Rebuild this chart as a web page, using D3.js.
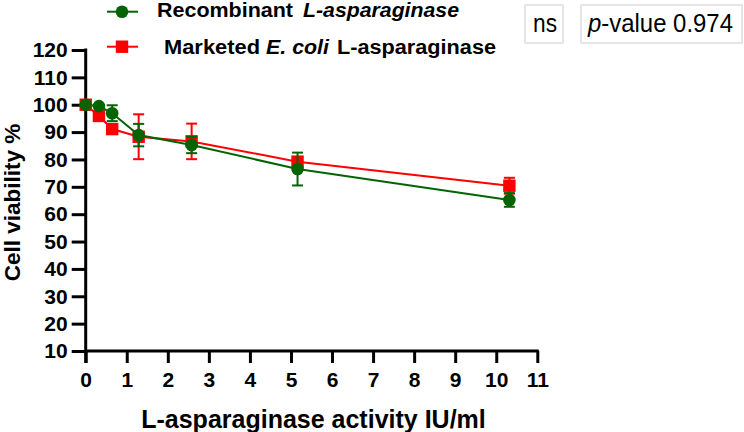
<!DOCTYPE html>
<html>
<head>
<meta charset="utf-8">
<script src="https://cdn.jsdelivr.net/npm/d3@7"></script>
<style>
  html, body { margin: 0; padding: 0; background: #fff; }
  svg { display: block; font-family: "Liberation Sans", Arial, sans-serif; }
</style>
</head>
<body>
<svg id="chart" width="744" height="432"></svg>
<script>
// ---- data ----
const activity = [0, 0.3225, 0.645, 1.29, 2.58, 5.16, 10.32];
const recombinantMean = [100, 99.5, 96.9, 88.9, 85.3, 76.5, 65.2];
const recombinantSD   = [0, 0, 2.9, 4.1, 3.0, 6.0, 2.5];
const marketedMean = [100, 95.9, 91.1, 88.3, 86.6, 79.2, 70.4];
const marketedSD   = [0, 0, 0, 8.2, 6.5, 1.5, 2.9];
const xTicks = [0, 1, 2, 3, 4, 5, 6, 7, 8, 9, 10, 11];
const yTicks = [10, 20, 30, 40, 50, 60, 70, 80, 90, 100, 110, 120];
const seriesNames = ["Recombinant", "Marketed"];

const GREEN = "#046404", RED = "#ff0000";

const svg = d3.select("#chart");
const x = d3.scaleLinear().domain([0, 11]).range([85.7, 537.3]);
const y = d3.scaleLinear().domain([10, 120]).range([351, 50]);

// ---- axes ----
const yAxis = d3.axisLeft(y).tickValues(yTicks).tickSize(14).tickPadding(4).tickSizeOuter(0);
const gy = svg.append("g").attr("transform", `translate(${x(0)},0)`).call(yAxis);
gy.select(".domain").remove();
gy.selectAll(".tick line").attr("stroke", "#000").attr("stroke-width", 3);
gy.selectAll(".tick text").attr("font-size", 21).attr("font-weight", "bold").attr("fill", "#000")
  .attr("font-family", "Liberation Sans, Arial, sans-serif");

const xAxis = d3.axisBottom(x).tickValues(xTicks).tickSize(12).tickPadding(9).tickSizeOuter(0);
const gx = svg.append("g").attr("transform", `translate(0,${y(10)})`).call(xAxis);
gx.select(".domain").remove();
gx.selectAll(".tick line").attr("stroke", "#000").attr("stroke-width", 3);
gx.selectAll(".tick text").attr("font-size", 21).attr("font-weight", "bold").attr("fill", "#000")
  .attr("font-family", "Liberation Sans, Arial, sans-serif");

// axis lines
svg.append("line").attr("x1", x(0)).attr("x2", x(0)).attr("y1", y(120) - 1.5).attr("y2", y(10) + 12)
  .attr("stroke", "#000").attr("stroke-width", 3);
svg.append("line").attr("x1", x(0)).attr("x2", x(11) + 1.5).attr("y1", y(10)).attr("y2", y(10))
  .attr("stroke", "#000").attr("stroke-width", 3);

// axis titles
svg.append("text").attr("transform", `translate(20,${(y(120) + y(10)) / 2 + 2}) rotate(-90)`)
  .attr("text-anchor", "middle").attr("font-size", 22.5).attr("font-weight", "bold")
  .text("Cell viability %");
svg.append("text").attr("x", (x(0) + x(11)) / 2 + 2).attr("y", 428)
  .attr("text-anchor", "middle").attr("font-size", 25).attr("font-weight", "bold")
  .text("L-asparaginase activity IU/ml");

// ---- series ----
function drawSeries(means, sds, color, shape) {
  const pts = activity.map((a, i) => ({ a, m: means[i], s: sds[i] }));
  const g = svg.append("g");
  g.append("path").datum(pts)
    .attr("d", d3.line().x(d => x(d.a)).y(d => y(d.m)))
    .attr("fill", "none").attr("stroke", color).attr("stroke-width", 2);
  const eb = g.selectAll(".eb").data(pts.filter(d => d.s > 0)).enter().append("g");
  eb.append("line").attr("x1", d => x(d.a)).attr("x2", d => x(d.a))
    .attr("y1", d => y(d.m + d.s)).attr("y2", d => y(d.m - d.s))
    .attr("stroke", color).attr("stroke-width", 2);
  [1, -1].forEach(sg => {
    eb.append("line").attr("x1", d => x(d.a) - 5.5).attr("x2", d => x(d.a) + 5.5)
      .attr("y1", d => y(d.m + sg * d.s)).attr("y2", d => y(d.m + sg * d.s))
      .attr("stroke", color).attr("stroke-width", 2);
  });
  if (shape === "circle") {
    g.selectAll(".pt").data(pts).enter().append("circle")
      .attr("cx", d => x(d.a)).attr("cy", d => y(d.m)).attr("r", 6.3).attr("fill", color);
  } else {
    g.selectAll(".pt").data(pts).enter().append("rect")
      .attr("x", d => x(d.a) - 6.2).attr("y", d => y(d.m) - 6.2)
      .attr("width", 12.4).attr("height", 12.4).attr("fill", color);
  }
}
drawSeries(marketedMean, marketedSD, RED, "square");
drawSeries(recombinantMean, recombinantSD, GREEN, "circle");

// ---- legend ----
const lg = svg.append("g");
lg.append("line").attr("x1", 107).attr("x2", 138).attr("y1", 11.7).attr("y2", 11.7)
  .attr("stroke", GREEN).attr("stroke-width", 2);
lg.append("circle").attr("cx", 122).attr("cy", 11.7).attr("r", 6.3).attr("fill", GREEN);
lg.append("line").attr("x1", 107).attr("x2", 138).attr("y1", 46.7).attr("y2", 46.7)
  .attr("stroke", RED).attr("stroke-width", 2);
lg.append("rect").attr("x", 122 - 6.2).attr("y", 46.7 - 6.2).attr("width", 12.4).attr("height", 12.4).attr("fill", RED);

function legText(x0, x1, yb, txt, italic) {
  lg.append("text").attr("x", x0).attr("y", yb).attr("font-size", 19.5).attr("font-weight", "bold")
    .attr("font-style", italic ? "italic" : "normal")
    .attr("textLength", x1 - x0).attr("lengthAdjust", "spacingAndGlyphs").text(txt);
}
legText(157, 293, 17.3, seriesNames[0], false);
legText(303, 459, 17.3, "L-asparaginase", true);
legText(164, 260, 54, seriesNames[1], false);
legText(266, 329, 54, "E. coli", true);
legText(337, 496, 54, "L-asparaginase", false);

// ---- stats boxes ----
svg.append("rect").attr("x", 525).attr("y", 5).attr("width", 38).attr("height", 38)
  .attr("fill", "#fff").attr("stroke", "#e6e6e6").attr("stroke-width", 2);
svg.append("rect").attr("x", 581).attr("y", 5).attr("width", 161).attr("height", 38)
  .attr("fill", "#fff").attr("stroke", "#e6e6e6").attr("stroke-width", 2);
svg.append("text").attr("x", 533).attr("y", 32).attr("font-size", 25)
  .attr("textLength", 24).attr("lengthAdjust", "spacingAndGlyphs").text("ns");
const pt = svg.append("text").attr("x", 588).attr("y", 32).attr("font-size", 25)
  .attr("textLength", 145).attr("lengthAdjust", "spacingAndGlyphs");
pt.append("tspan").attr("font-style", "italic").text("p");
pt.append("tspan").text("-value 0.974");
</script>
</body>
</html>
